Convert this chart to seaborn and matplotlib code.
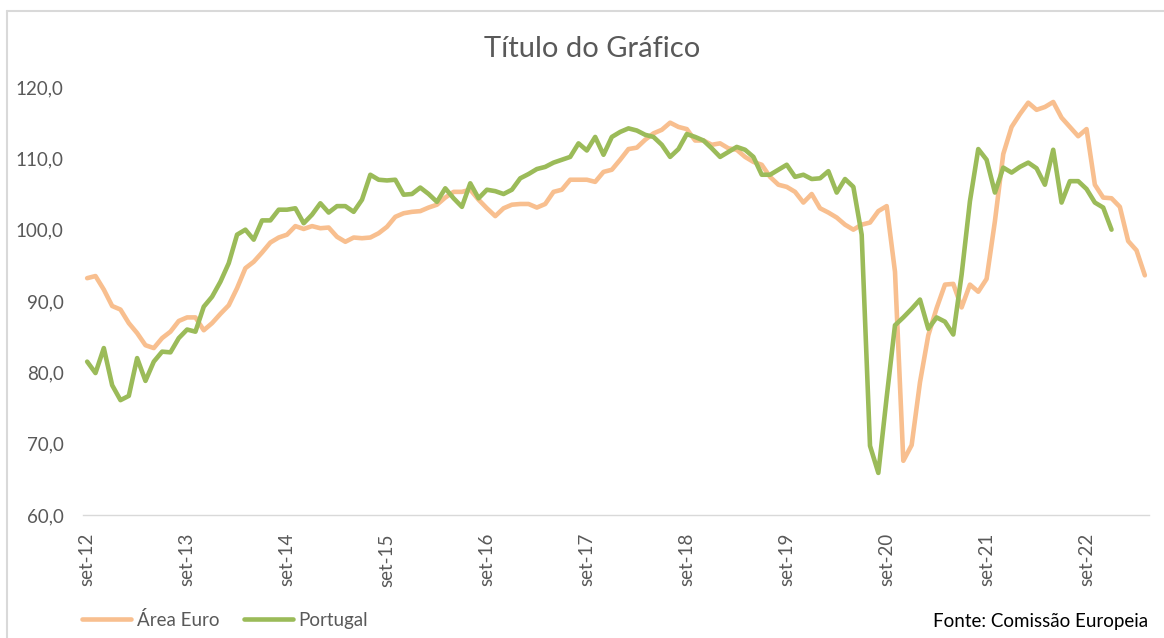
import numpy as np
import pandas as pd
import seaborn as sns
from matplotlib import pyplot as plt
from matplotlib.lines import Line2D
from matplotlib.ticker import FixedLocator, FuncFormatter

# Monthly index, Sep 2012 onwards
area_euro = [
    93.2, 93.5, 91.6, 89.3, 88.8, 86.9, 85.5, 83.8, 83.4, 84.8,
    85.7, 87.2, 87.7, 87.7, 85.9, 86.9, 88.2, 89.4, 91.8, 94.6,
    95.5, 96.8, 98.2, 98.9, 99.3, 100.5, 100.1, 100.5, 100.2, 100.3,
    99.0, 98.3, 98.9, 98.8, 98.9, 99.5, 100.4, 101.8, 102.3, 102.5,
    102.6, 103.1, 103.5, 104.5, 105.3, 105.3, 105.6, 104.2, 103.0, 101.9,
    103.0, 103.5, 103.6, 103.6, 103.1, 103.6, 105.3, 105.6, 107.0, 107.0,
    107.0, 106.7, 108.1, 108.4, 109.8, 111.3, 111.5, 112.6, 113.5, 114.0,
    115.0, 114.4, 114.1, 112.5, 112.5, 111.9, 112.1, 111.4, 111.2, 110.2,
    109.5, 109.1, 107.4, 106.3, 106.0, 105.3, 103.8, 105.0, 103.0, 102.4,
    101.7, 100.7, 100.0, 100.7, 101.0, 102.6, 103.3, 94.1, 67.6, 69.8,
    78.6, 85.2, 89.0, 92.3, 92.4, 89.1, 92.3, 91.3, 93.1, 101.2,
    110.6, 114.4, 116.2, 117.8, 116.8, 117.2, 117.9, 115.7, 114.4, 113.1,
    114.1, 106.3, 104.5, 104.4, 103.2, 98.4, 97.1, 93.6,
]

portugal = [
    81.5, 79.9, 83.4, 78.2, 76.1, 76.7, 82.0, 78.8, 81.5, 82.9,
    82.8, 84.8, 86.0, 85.7, 89.2, 90.6, 92.7, 95.3, 99.3, 100.0,
    98.6, 101.3, 101.3, 102.8, 102.8, 103.0, 100.9, 102.1, 103.7, 102.4,
    103.3, 103.3, 102.5, 104.2, 107.7, 107.0, 106.9, 107.0, 104.9, 105.0,
    105.9, 105.0, 103.9, 105.8, 104.4, 103.2, 106.5, 104.4, 105.6, 105.4,
    105.0, 105.6, 107.2, 107.8, 108.5, 108.8, 109.4, 109.8, 110.2, 112.1,
    111.1, 113.0, 110.5, 113.0, 113.7, 114.2, 113.9, 113.3, 113.0, 111.9,
    110.2, 111.3, 113.4, 113.0, 112.5, 111.4, 110.2, 110.9, 111.6, 111.2,
    110.2, 107.7, 107.7, 108.4, 109.1, 107.4, 107.7, 107.1, 107.2, 108.2,
    105.2, 107.1, 106.0, 99.3, 69.7, 65.9, 76.5, 86.6, 87.7, 88.9,
    90.2, 86.1, 87.7, 87.1, 85.3, 93.7, 104.0, 111.3, 109.8, 105.2,
    108.7, 108.0, 108.8, 109.4, 108.6, 106.3, 111.2, 103.8, 106.8, 106.8,
    105.7, 103.8, 103.1, 100.0,
]

tick_labels = ['set-12', 'set-13', 'set-14', 'set-15', 'set-16', 'set-17',
               'set-18', 'set-19', 'set-20', 'set-21', 'set-22']
series_names = ['Área Euro', 'Portugal']
colors = ['#F8BF8F', '#9BBB59']

df = pd.concat([
    pd.DataFrame({'mes': np.arange(len(area_euro)), 'valor': area_euro, 'serie': series_names[0]}),
    pd.DataFrame({'mes': np.arange(len(portugal)), 'valor': portugal, 'serie': series_names[1]}),
])

sns.set_theme(style='white')
plt.rcParams['font.family'] = ['Lato', 'DejaVu Sans']
text_col = '#595959'
axis_col = '#D9D9D9'

fig = plt.figure(figsize=(11.64, 6.38), dpi=100)
ax = fig.add_axes([83 / 1164, 1 - 515 / 638, (1149 - 83) / 1164, (515 - 87) / 638])

sns.lineplot(data=df, x='mes', y='valor', hue='serie', palette=colors,
             linewidth=3.3, ax=ax, legend=False, solid_capstyle='round')

n = len(area_euro)
ax.set_xlim(-0.5, n - 0.5)
ax.set_ylim(60, 120)
ax.set_xlabel('')
ax.set_ylabel('')

for s in ['top', 'right', 'left']:
    ax.spines[s].set_visible(False)
ax.spines['bottom'].set_color(axis_col)
ax.spines['bottom'].set_linewidth(1.0)

# y axis
ax.set_yticks(np.arange(60, 121, 10))
ax.yaxis.set_major_formatter(FuncFormatter(lambda v, p: f'{v:.1f}'.replace('.', ',')))
ax.tick_params(axis='y', length=0, pad=14, labelsize=13.5, labelcolor=text_col)

# x axis: labels each 12 months, tick marks between categories
ax.set_xticks(np.arange(0, 12 * len(tick_labels), 12))
ax.set_xticklabels(tick_labels, rotation=90, va='top', ha='center')
ax.xaxis.set_minor_locator(FixedLocator(np.arange(-0.5, n, 1)))
ax.tick_params(axis='x', which='major', length=0, pad=13, labelsize=13.5, labelcolor=text_col)
ax.tick_params(axis='x', which='minor', length=8, direction='inout', color=axis_col, width=1)
ax.grid(False)

fig.text(592 / 1164, 1 - 49 / 638, 'Título do Gráfico', ha='center', va='center',
         fontsize=21, color=text_col)

handles = [Line2D([], [], color=c, linewidth=3.3) for c in colors]
fig.legend(handles, series_names, loc='center left', bbox_to_anchor=(75 / 1164, 1 - 620 / 638),
           frameon=False, ncol=2, handlelength=2.6, handletextpad=0.3, columnspacing=1.3,
           fontsize=13.5, labelcolor=text_col, borderaxespad=0)

fig.text(1148 / 1164, 1 - 621 / 638, 'Fonte: Comissão Europeia', ha='right', va='center',
         fontsize=13.5, color='black')

# chart area border (left and top edges)
fig.add_artist(Line2D([7 / 1164, 7 / 1164], [0, 1 - 11 / 638], transform=fig.transFigure,
                      color=axis_col, linewidth=1.5))
fig.add_artist(Line2D([7 / 1164, 1], [1 - 11 / 638, 1 - 11 / 638], transform=fig.transFigure,
                      color=axis_col, linewidth=1.5))

fig.savefig('out.png', dpi=100, facecolor='white')
